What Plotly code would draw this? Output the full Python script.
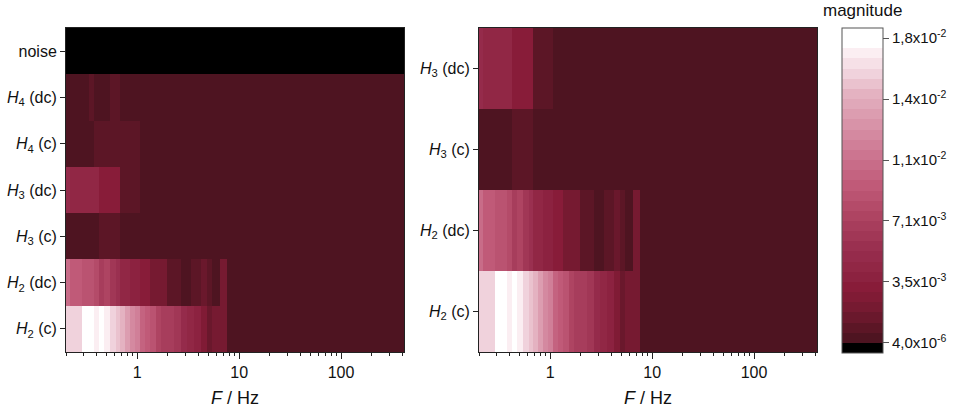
import numpy as np
import plotly.graph_objects as go

# frequency bin edges (Hz)
freq_edges = [0.2, 0.22, 0.256, 0.29, 0.335, 0.379, 0.425, 0.475, 0.535, 0.615,
              0.675, 0.758, 0.84, 0.945, 1.07, 1.19, 1.32, 1.52, 1.73, 1.95,
              2.31, 2.68, 3.07, 3.36, 3.62, 4.27, 4.82, 5.47, 6.51, 7.57, 415]

# magnitudes per bin, in units of 1e-3
h2_c = [15.6, 15.6, 15.6, 18.0, 18.0, 16.8, 18.0, 16.8, 15.6, 15.0,
        14.4, 13.3, 12.1, 11.5, 9.7, 9.1, 8.5, 7.4, 6.8, 6.8,
        6.2, 5.0, 4.4, 4.4, 3.8, 2.6, 1.5, 2.1, 2.1, 0.28]
h2_dc = [10.3, 9.1, 9.1, 8.5, 8.5, 8.0, 6.8, 7.4, 6.2, 5.6,
         4.4, 4.4, 3.8, 3.8, 3.2, 3.2, 2.1, 2.1, 2.1, 0.9,
         0.9, 0.35, 0.35, 0.9, 0.9, 1.5, 0.9, 0.3, 2.1, 0.28]
h3_c = [0.3, 0.3, 0.3, 0.3, 0.3, 0.3, 0.9, 0.9, 0.9, 0.9,
        0.28, 0.28, 0.28, 0.28, 0.28, 0.28, 0.28, 0.28, 0.28, 0.28,
        0.28, 0.28, 0.28, 0.28, 0.28, 0.28, 0.28, 0.28, 0.28, 0.28]
h3_dc = [5.0, 4.4, 4.4, 4.4, 4.4, 4.3, 3.2, 3.2, 3.2, 3.2,
         0.9, 0.9, 0.9, 0.9, 0.28, 0.28, 0.28, 0.28, 0.28, 0.28,
         0.28, 0.28, 0.28, 0.28, 0.28, 0.28, 0.28, 0.28, 0.28, 0.28]
h4_c = [0.3, 0.3, 0.3, 0.3, 0.3, 0.9, 0.9, 0.9, 0.9, 0.9,
        0.85, 0.85, 0.85, 0.9, 0.28, 0.28, 0.28, 0.28, 0.28, 0.28,
        0.28, 0.28, 0.28, 0.28, 0.28, 0.28, 0.28, 0.28, 0.28, 0.28]
h4_dc = [0.25, 0.25, 0.25, 0.25, 0.9, 0.25, 0.25, 0.25, 0.9, 0.9,
         0.28, 0.28, 0.28, 0.28, 0.28, 0.28, 0.28, 0.28, 0.28, 0.28,
         0.28, 0.28, 0.28, 0.28, 0.28, 0.28, 0.28, 0.28, 0.28, 0.28]
noise = [0.001] * 30

labels_left = ['<i>H</i><sub>2</sub> (c)', '<i>H</i><sub>2</sub> (dc)',
               '<i>H</i><sub>3</sub> (c)', '<i>H</i><sub>3</sub> (dc)',
               '<i>H</i><sub>4</sub> (c)', '<i>H</i><sub>4</sub> (dc)', 'noise']
labels_right = labels_left[:4]

# colorbar ticks
cb_tickvals = [4.0e-6, 3.538e-3, 7.072e-3, 1.0606e-2, 1.414e-2, 1.7674e-2]
cb_ticktext = ['4,0x10<sup>-6</sup>', '3,5x10<sup>-3</sup>', '7,1x10<sup>-3</sup>',
               '1,1x10<sup>-2</sup>', '1,4x10<sup>-2</sup>', '1,8x10<sup>-2</sup>']
level_step = 5.89e-4
zmin = cb_tickvals[0] - level_step
zmax = cb_tickvals[0] + 31 * level_step

# stepped colour map: black below the first level, then dark red -> white
anchor_k = [0, 1, 2, 3, 4, 5, 6, 9, 12, 15, 18, 21, 24, 26, 28, 29, 30]
anchor_c = ['#4e1421', '#5c1626', '#6a182c', '#761a31', '#801b35', '#881c39',
            '#8c2240', '#9a3050', '#ae4462', '#c05a78', '#cc7590', '#d893a8',
            '#e4b2c1', '#f0d2dc', '#fbeef2', '#ffffff', '#ffffff']


def hex2rgb(h):
    return [int(h[i:i + 2], 16) for i in (1, 3, 5)]


anchor_rgb = np.array([hex2rgb(c) for c in anchor_c], dtype=float)
band_colors = ['#000000']
for k in range(31):
    rgb = [np.interp(k, anchor_k, anchor_rgb[:, j]) for j in range(3)]
    band_colors.append('rgb(%d,%d,%d)' % tuple(int(round(v)) for v in rgb))
n = len(band_colors)
colorscale = []
for i, c in enumerate(band_colors):
    colorscale += [[i / n, c], [(i + 1) / n, c]]

z_left = np.array([h2_c, h2_dc, h3_c, h3_dc, h4_c, h4_dc, noise]) * 1e-3
z_right = np.array([h2_c, h2_dc, h3_c, h3_dc]) * 1e-3

fig = go.Figure()
fig.add_trace(go.Heatmap(x=freq_edges, y=labels_left, z=z_left, coloraxis='coloraxis',
                         xaxis='x', yaxis='y'))
fig.add_trace(go.Heatmap(x=freq_edges, y=labels_right, z=z_right, coloraxis='coloraxis',
                         xaxis='x2', yaxis='y2'))

minor_vals = [0.2, 0.3, 0.4, 0.5, 0.6, 0.7, 0.8, 0.9, 2, 3, 4, 5, 6, 7, 8, 9,
              20, 30, 40, 50, 60, 70, 80, 90, 200, 300, 400]
line_col = '#222222'
font = 'Arial, Liberation Sans, sans-serif'


def xaxis_style(domain):
    return dict(domain=domain, type='log', range=[np.log10(0.2), np.log10(415)],
                tickvals=[1, 10, 100], ticktext=['1', '10', '100'],
                ticks='outside', ticklen=6, tickwidth=1, tickcolor=line_col,
                minor=dict(tickvals=minor_vals, ticks='outside', ticklen=3,
                           tickcolor=line_col, showgrid=False),
                showline=True, linecolor=line_col, linewidth=1, mirror=True,
                showgrid=False, zeroline=False, tickfont=dict(size=16),
                automargin=False,
                title=dict(text='<i>F</i> / Hz', font=dict(size=18), standoff=11))


def yaxis_style(domain, anchor):
    return dict(domain=domain, anchor=anchor, type='category',
                ticks='outside', ticklen=5, tickwidth=1, tickcolor=line_col,
                showline=True, linecolor=line_col, linewidth=1, mirror=True,
                showgrid=False, zeroline=False, tickfont=dict(size=16),
                automargin=False)


fig.update_layout(
    width=959, height=409,
    margin=dict(l=0, r=0, t=0, b=0, autoexpand=False),
    paper_bgcolor='white', plot_bgcolor='white',
    font=dict(family=font, color='#111111'),
    showlegend=False,
    xaxis=dict(xaxis_style([66 / 959, 404 / 959]), anchor='y'),
    yaxis=yaxis_style([57 / 409, 381 / 409], 'x'),
    xaxis2=dict(xaxis_style([479 / 959, 817 / 959]), anchor='y2'),
    yaxis2=yaxis_style([57 / 409, 381 / 409], 'x2'),
    coloraxis=dict(
        colorscale=colorscale, cmin=zmin, cmax=zmax,
        colorbar=dict(x=842 / 959, xanchor='left', xref='paper',
                      y=56 / 409, yanchor='bottom', len=325 / 409, lenmode='fraction',
                      thickness=41, thicknessmode='pixels', xpad=0, ypad=0,
                      outlinewidth=1, outlinecolor='#555555',
                      tickvals=cb_tickvals, ticktext=cb_ticktext,
                      ticks='outside', ticklen=6, tickcolor='#555555',
                      tickfont=dict(size=15)),
    ),
    annotations=[dict(text='magnitude', x=862 / 959, y=1 - 11 / 409,
                      xref='paper', yref='paper', showarrow=False,
                      xanchor='center', yanchor='middle', font=dict(size=17))],
)

# drop the browser's default page margin so the figure sits at the window origin
fig.write_html('out.html', config={'displayModeBar': False},
               post_script="document.body.style.margin = '0px';")
